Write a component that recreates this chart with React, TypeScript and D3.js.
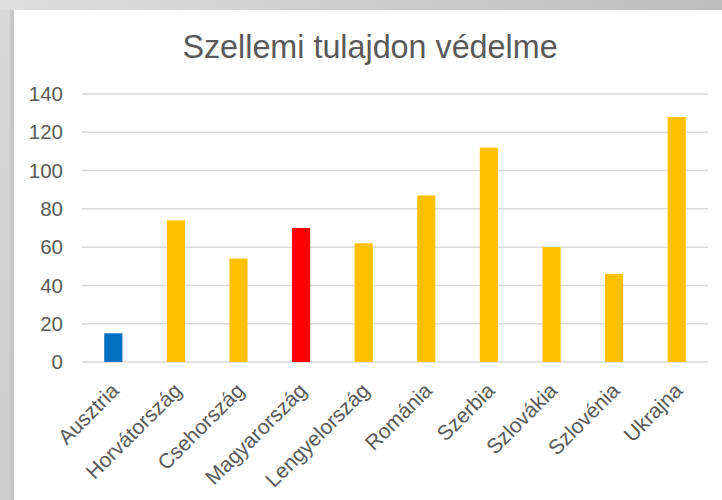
import React from "react";
import * as d3 from "d3";

const categories = ["Ausztria", "Horvátország", "Csehország", "Magyarország", "Lengyelország", "Románia", "Szerbia", "Szlovákia", "Szlovénia", "Ukrajna"];
const values = [15, 74, 54, 70, 62, 87, 112, 60, 46, 128];
const barColors = ["#0070C0", "#FFC000", "#FFC000", "#FF0000", "#FFC000", "#FFC000", "#FFC000", "#FFC000", "#FFC000", "#FFC000"];
const yTicks = [0, 20, 40, 60, 80, 100, 120, 140];
const title = "Szellemi tulajdon védelme";

const W = 722;
const H = 500;
const font = "'Liberation Sans', Arial, sans-serif";
const textColor = "#595959";

export default function App() {
  const x = d3.scaleBand<string>().domain(categories).range([82, 708]).paddingInner(0.71).paddingOuter(0.355);
  const y = d3.scaleLinear().domain([0, 140]).range([362, 94]);
  return (
    <svg width={W} height={H} style={{ position: "absolute", left: 0, top: 0 }} fontFamily={font}>
      <defs>
        <linearGradient id="topg" x1="0" x2="1" y1="0" y2="0">
          <stop offset="0" stopColor="#dedede" />
          <stop offset="1" stopColor="#bdbdbd" />
        </linearGradient>
        <linearGradient id="leftg" x1="0" x2="0" y1="0" y2="1">
          <stop offset="0" stopColor="#d8d8d8" />
          <stop offset="1" stopColor="#cdcdcd" />
        </linearGradient>
      </defs>
      <rect x={0} y={0} width={W} height={H} fill="url(#leftg)" />
      <rect x={0} y={0} width={W} height={10} fill="url(#topg)" />
      <rect x={10} y={10} width={4} height={H - 10} fill="#c6c6c6" />
      <rect x={14} y={10} width={W - 14} height={H - 10} fill="#ffffff" />
      <text x={370} y={58} textAnchor="middle" fontSize={32.3} fill={textColor}>{title}</text>
      {yTicks.map((t) => (
        <g key={t}>
          <line x1={82} x2={708} y1={y(t)} y2={y(t)} stroke="#d9d9d9" strokeWidth={1.5} />
          <text x={63} y={y(t)} dy="0.35em" textAnchor="end" fontSize={20.5} fill={textColor}>{t}</text>
        </g>
      ))}
      {categories.map((c, i) => (
        <rect key={c} x={x(c)} y={y(values[i])} width={x.bandwidth()} height={y(0) - y(values[i])} fill={barColors[i]} />
      ))}
      {categories.map((c) => {
        const cx = (x(c) as number) + x.bandwidth() / 2;
        return (
          <text key={c} transform={`translate(${cx + 7},392) rotate(-45)`} textAnchor="end" fontSize={21} fill={textColor}>{c}</text>
        );
      })}
    </svg>
  );
}
